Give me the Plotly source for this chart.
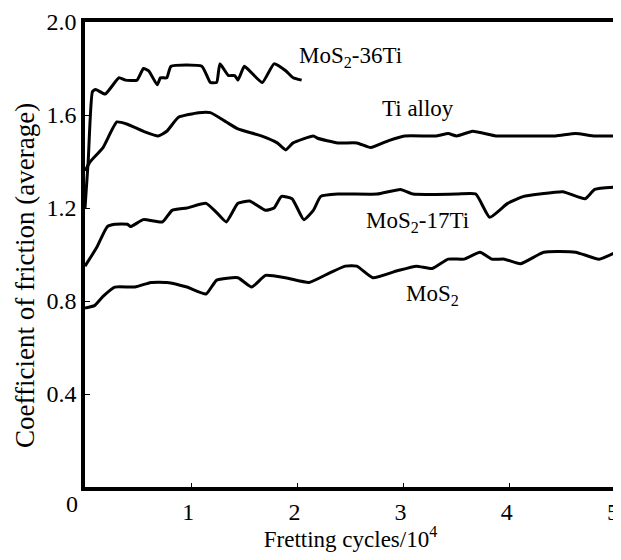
import plotly.graph_objects as go

# Fretting cycles (x10^4) and coefficient of friction for each material
cyc_36ti = [0, 0.03, 0.07, 0.10, 0.19, 0.32, 0.38, 0.49, 0.55, 0.60, 0.68, 0.71, 0.77, 0.81,
            1.10, 1.18, 1.24, 1.27, 1.35, 1.41, 1.44, 1.50, 1.55, 1.67, 1.78, 1.89, 1.96, 2.04]
cof_36ti = [1.20, 1.40, 1.70, 1.71, 1.69, 1.76, 1.75, 1.75, 1.80, 1.79, 1.73, 1.76, 1.76, 1.81,
            1.81, 1.74, 1.74, 1.82, 1.77, 1.77, 1.75, 1.81, 1.79, 1.74, 1.82, 1.79, 1.76, 1.75]

cyc_ti = [0, 0.05, 0.17, 0.30, 0.40, 0.55, 0.69, 0.77, 0.88, 1.07, 1.18, 1.33, 1.44, 1.66, 1.81,
          1.89, 1.96, 2.15, 2.19, 2.38, 2.56, 2.69, 2.86, 3.01, 3.31, 3.42, 3.50, 3.65, 3.87,
          4.06, 4.43, 4.62, 4.80, 5.00]
cof_ti = [1.36, 1.40, 1.46, 1.57, 1.56, 1.53, 1.51, 1.53, 1.59, 1.61, 1.61, 1.57, 1.54, 1.51, 1.48,
          1.45, 1.48, 1.51, 1.50, 1.48, 1.48, 1.46, 1.49, 1.51, 1.51, 1.52, 1.51, 1.53, 1.51,
          1.51, 1.51, 1.52, 1.51, 1.51]

cyc_17ti = [0, 0.11, 0.21, 0.28, 0.40, 0.43, 0.55, 0.73, 0.82, 0.96, 1.14, 1.24, 1.33, 1.44, 1.55,
            1.70, 1.78, 1.85, 1.95, 2.06, 2.15, 2.22, 2.38, 2.75, 2.97, 3.09, 3.50, 3.68, 3.81,
            3.98, 4.13, 4.28, 4.50, 4.71, 4.80, 5.00]
cof_17ti = [0.95, 1.03, 1.12, 1.13, 1.13, 1.12, 1.15, 1.14, 1.19, 1.20, 1.22, 1.18, 1.14, 1.22, 1.23,
            1.19, 1.20, 1.25, 1.24, 1.15, 1.19, 1.25, 1.26, 1.26, 1.28, 1.26, 1.26, 1.26, 1.16,
            1.22, 1.25, 1.26, 1.27, 1.24, 1.28, 1.29]

cyc_mos2 = [0, 0.09, 0.17, 0.28, 0.47, 0.62, 0.77, 0.96, 1.14, 1.24, 1.44, 1.57, 1.70, 1.89, 2.11,
            2.30, 2.45, 2.56, 2.71, 2.94, 3.12, 3.27, 3.42, 3.57, 3.72, 3.83, 3.95, 4.10, 4.32,
            4.62, 4.84, 5.00]
cof_mos2 = [0.77, 0.78, 0.82, 0.86, 0.86, 0.88, 0.88, 0.86, 0.83, 0.89, 0.90, 0.86, 0.91, 0.90, 0.88,
            0.92, 0.95, 0.95, 0.90, 0.93, 0.95, 0.94, 0.98, 0.98, 1.01, 0.98, 0.98, 0.96, 1.01,
            1.01, 0.98, 1.01]

x_ticks = [1, 2, 3, 4, 5]
y_ticks = [0.4, 0.8, 1.2, 1.6, 2.0]
y_tick_text = ["0.4", "0.8", "1.2", "1.6", "2.0"]

labels = ["MoS<sub>2</sub>-36Ti", "Ti alloy", "MoS<sub>2</sub>-17Ti", "MoS<sub>2</sub>"]
label_x = [2.50, 3.14, 3.13, 3.27]
label_y = [1.85, 1.626, 1.14, 0.826]

FONT = "Liberation Serif, Times New Roman, serif"

fig = go.Figure()
for xs, ys in [(cyc_36ti, cof_36ti), (cyc_ti, cof_ti), (cyc_17ti, cof_17ti), (cyc_mos2, cof_mos2)]:
    fig.add_trace(go.Scatter(x=xs, y=ys, mode="lines",
                             line=dict(color="black", width=3, shape="spline", smoothing=0.45),
                             showlegend=False, hoverinfo="skip"))

for t, lx, ly in zip(labels, label_x, label_y):
    fig.add_annotation(x=lx, y=ly, text=t, showarrow=False,
                       font=dict(family=FONT, size=23, color="black"))

# shared origin label
fig.add_annotation(x=0, y=0, xref="x", yref="y", text="0", showarrow=False,
                   xshift=-13, yshift=-17, font=dict(family=FONT, size=24, color="black"))

# y-axis title
fig.add_annotation(x=-0.113, y=0.456, xref="paper", yref="paper",
                   xanchor="center", yanchor="middle",
                   text="Coefficient of friction (average)", textangle=-90, showarrow=False,
                   font=dict(family=FONT, size=27, color="black"))

# page has an 8px body margin, so the figure is sized to fit the 621x560 window
fig.update_layout(
    width=613, height=544,
    margin=dict(l=77, r=5, t=14, b=65),
    plot_bgcolor="white", paper_bgcolor="white",
    font=dict(family=FONT, size=24, color="black"),
    xaxis=dict(range=[0, 5], tickvals=x_ticks, ticktext=[str(v) for v in x_ticks],
               showline=True, linecolor="black", linewidth=3.5, mirror=True,
               ticks="inside", ticklen=4, tickcolor="black", showgrid=False, zeroline=False,
               ticklabelstandoff=0, ticklabelshift=-3, automargin=False,
               ticklabeloverflow="allow",
               title=dict(text="Fretting cycles/10<sup>4</sup>", standoff=4,
                          font=dict(family=FONT, size=23))),
    yaxis=dict(range=[0, 2.0], tickvals=y_ticks, ticktext=y_tick_text,
               showline=True, linecolor="black", linewidth=3.5, mirror=True,
               ticks="inside", ticklen=5, tickcolor="black", showgrid=False, zeroline=False,
               ticklabelstandoff=0, automargin=False, ticklabeloverflow="allow"),
)

fig.write_html("out.html")
